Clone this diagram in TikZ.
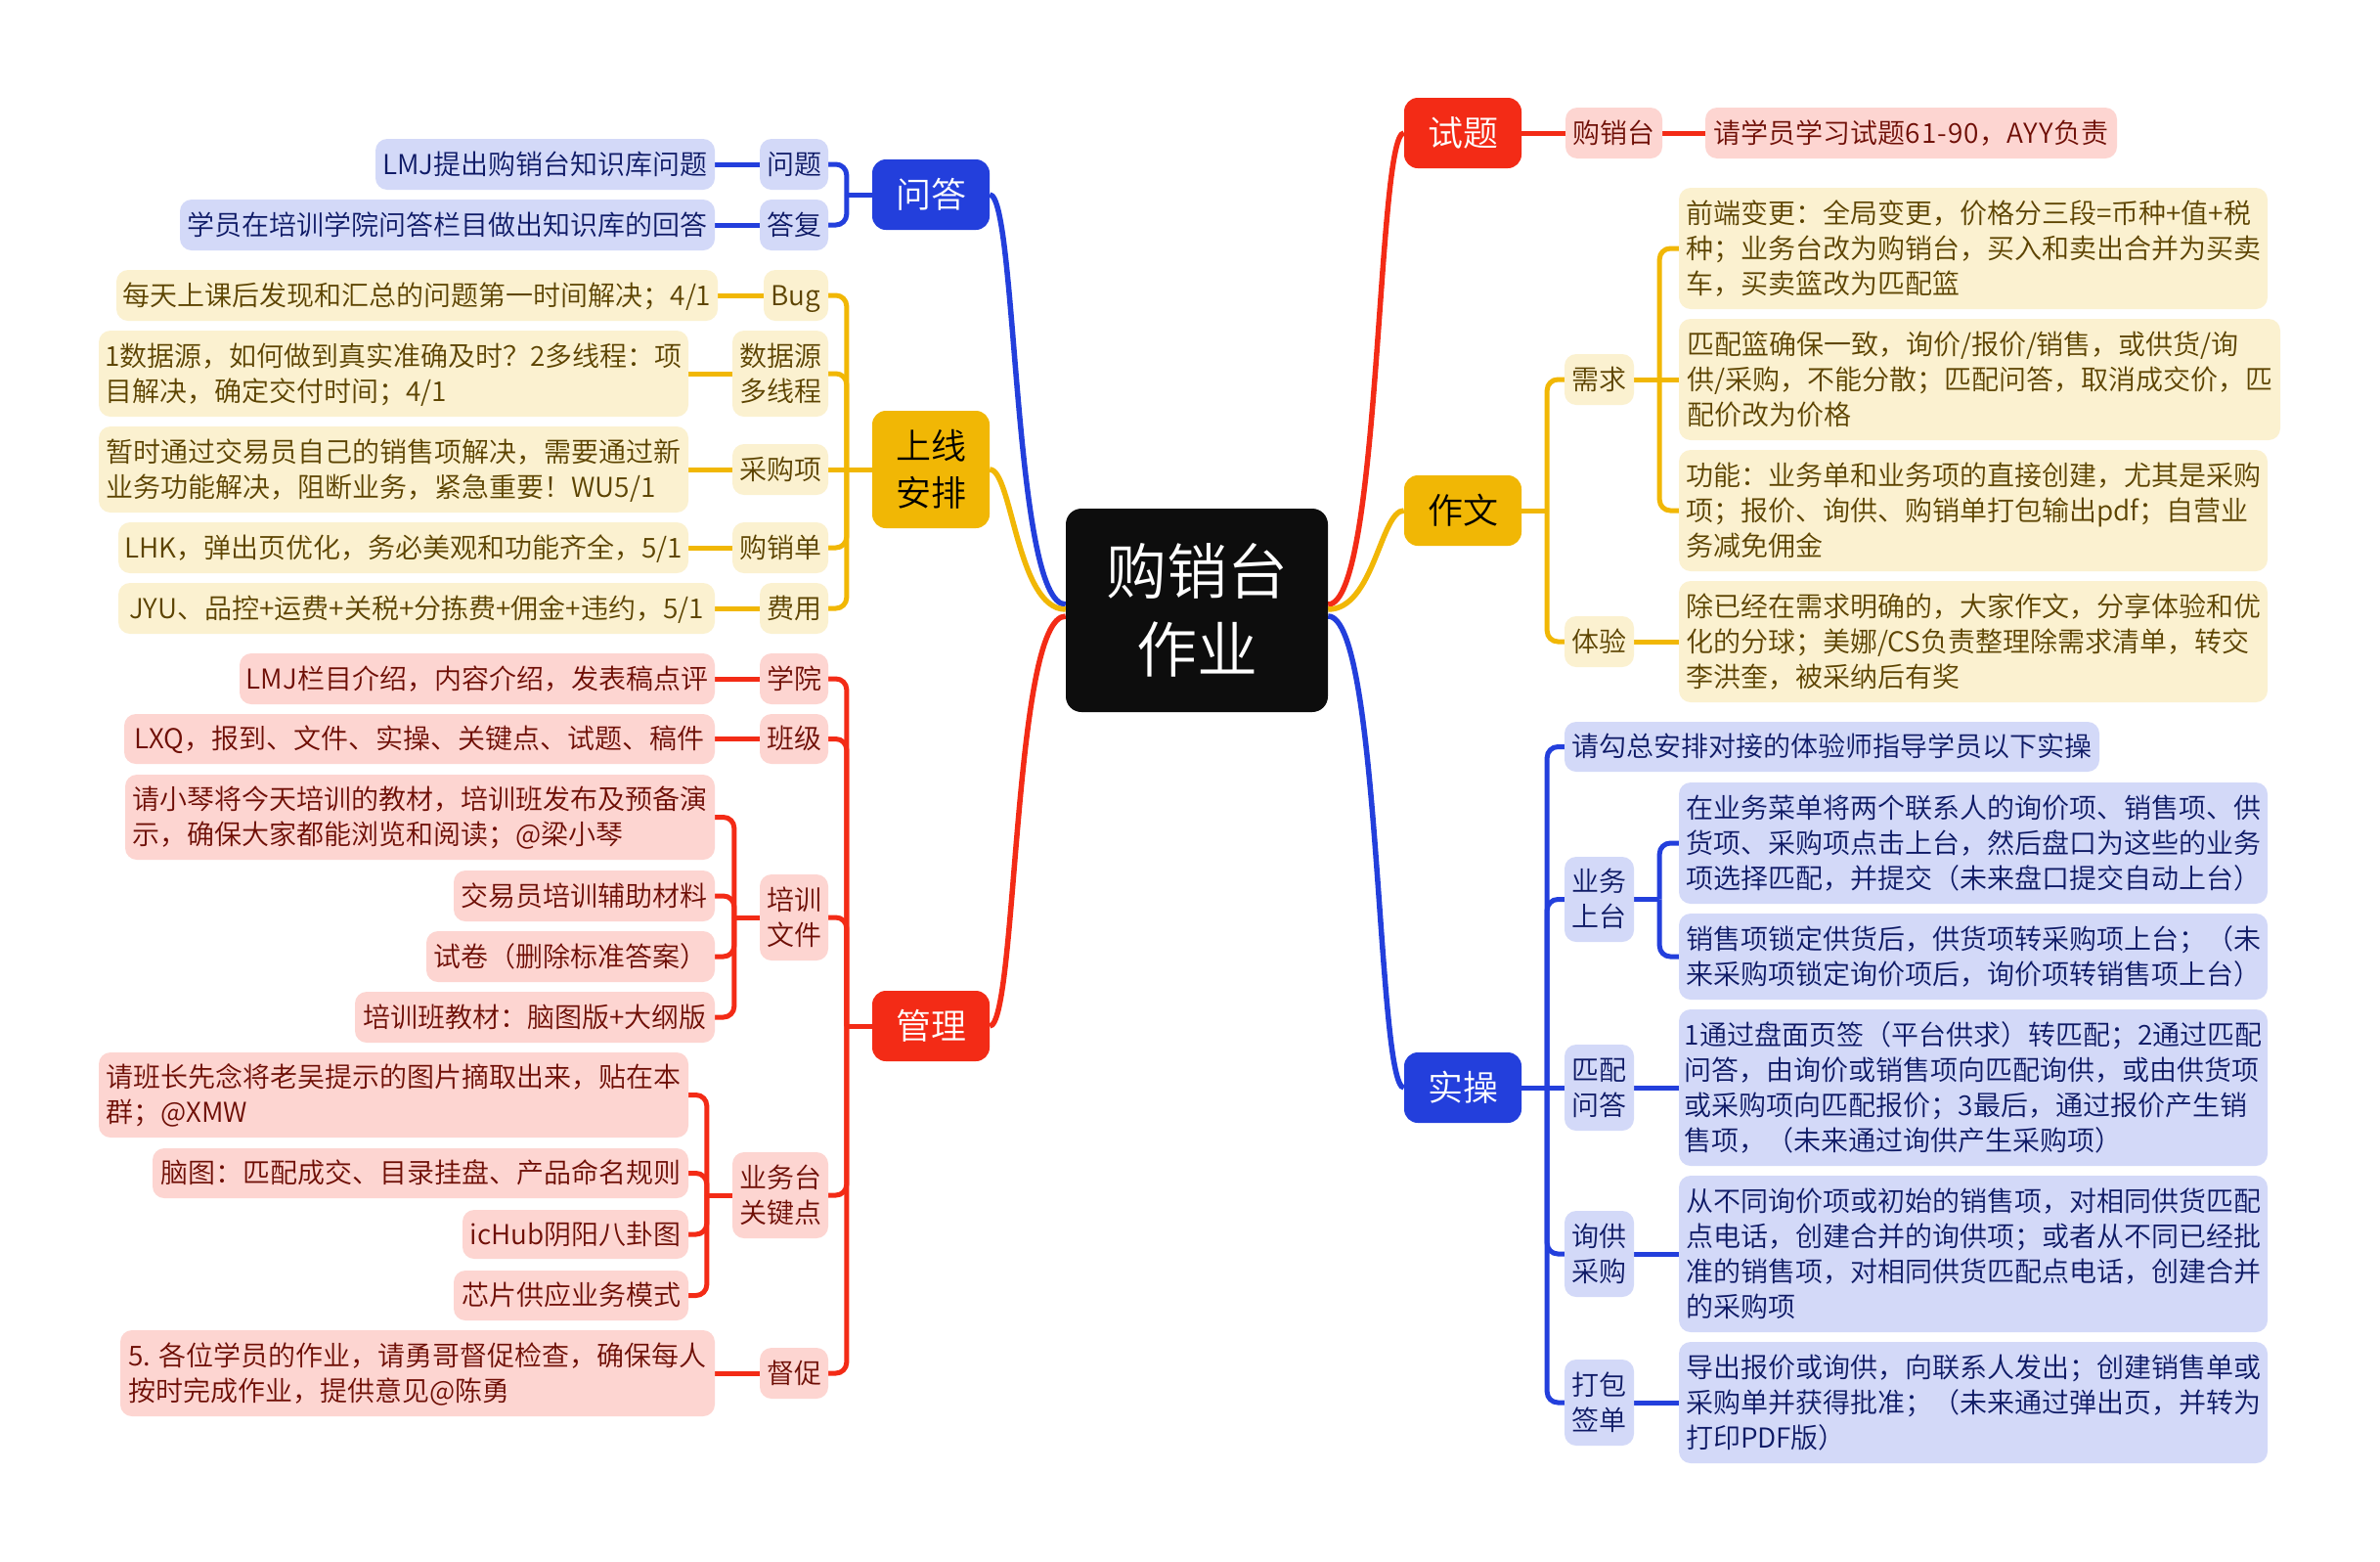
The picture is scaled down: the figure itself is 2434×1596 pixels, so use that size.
\documentclass[tikz,border=0pt]{standalone}
\usepackage{fontspec}
\setmainfont{Noto Sans CJK SC}[UprightFont={* DemiLight},BoldFont={* DemiLight}]
\usetikzlibrary{calc,backgrounds}
\definecolor{cB}{HTML}{233FDC}
\definecolor{cY}{HTML}{F1B705}
\definecolor{cR}{HTML}{F32B16}
\definecolor{lB}{HTML}{D3D9F8}
\definecolor{lY}{HTML}{FBF1D0}
\definecolor{lR}{HTML}{FDD5D1}
\definecolor{tB}{HTML}{0E1A66}
\definecolor{tY}{HTML}{5C4300}
\definecolor{tR}{HTML}{6E0E05}
\tikzset{
 box/.style={rectangle,inner sep=0pt,align=left},
 sub/.style={box,rounded corners=12pt,font=\fontsize{28}{36}\selectfont},
 subB/.style={sub,fill=lB,text=tB},
 subY/.style={sub,fill=lY,text=tY},
 subR/.style={sub,fill=lR,text=tR},
 mainn/.style={box,rounded corners=14pt,align=center,font=\fontsize{36}{48}\selectfont},
 mainB/.style={mainn,fill=cB,text=white},
 mainY/.style={mainn,fill=cY,text=black},
 mainR/.style={mainn,fill=cR,text=white},
 con/.style={line width=5pt,rounded corners=11pt},
 stub/.style={line width=5pt},
 curve/.style={line width=5.5pt},
}
% \nd{name}{style}{x0}{y0}{x1}{y1}{text}
\newcommand{\nd}[7]{\node[#2,minimum width=#5pt-#3pt,minimum height=#6pt-#4pt] (#1) at ({(#3+#5)/2},{(#4+#6)/2}) {\raisebox{0pt}[\dimexpr\height+6pt\relax]{\begin{tabular}{@{}l@{}}#7\end{tabular}}};}
\newcommand{\ndc}[7]{\node[#2,minimum width=#5pt-#3pt,minimum height=#6pt-#4pt] (#1) at ({(#3+#5)/2},{(#4+#6)/2}) {#7};}
\newcommand{\elL}[3]{\draw[stub,#1] (#2.west) -- ++(-26,0) coordinate (jn); \draw[con,#1] (jn) |- (#3.east);}
\newcommand{\elR}[3]{\draw[stub,#1] (#2.east) -- ++(26,0) coordinate (jn); \draw[con,#1] (jn) |- (#3.west);}
\newcommand{\stL}[3]{\draw[stub,#1] (#2.west) -- (#3.east);}
\newcommand{\stR}[3]{\draw[stub,#1] (#2.east) -- (#3.west);}
\begin{document}
\begin{tikzpicture}[x=1pt,y=-1pt]
\useasboundingbox (0,0) rectangle (2434,1596);
% root
\node[box,fill=black!95,text=white,rounded corners=16pt,align=center,font=\fontsize{62}{80}\selectfont,minimum width=268pt,minimum height=208pt] (root) at (1224,624) {购销台\\作业};
% main
\ndc{wd}{mainB}{892}{163}{1012}{235}{问答}
\ndc{sx}{mainY}{892}{420}{1012}{540}{上线\\安排}
\ndc{gl}{mainR}{892}{1013}{1012}{1085}{管理}
\ndc{st}{mainR}{1436}{100}{1556}{172}{试题}
\ndc{zw}{mainY}{1436}{486}{1556}{558}{作文}
\ndc{sc}{mainB}{1436}{1076}{1556}{1148}{实操}
% 问答
\nd{wt}{subB}{777}{142}{847}{194}{问题}
\nd{wta}{subB}{384}{142}{731}{194}{LMJ提出购销台知识库问题}
\nd{df}{subB}{777}{204}{847}{256}{答复}
\nd{dfa}{subB}{184}{204}{731}{256}{学员在培训学院问答栏目做出知识库的回答}
% 上线
\nd{bug}{subY}{781}{276}{847}{328}{Bug}
\nd{buga}{subY}{119}{276}{734}{328}{每天上课后发现和汇总的问题第一时间解决；4/1}
\nd{sjy}{subY}{749}{338}{847}{426}{数据源\\多线程}
\nd{sjya}{subY}{101}{338}{704}{426}{1数据源，如何做到真实准确及时？2多线程：项\\目解决，确定交付时间；4/1}
\nd{cgx}{subY}{749}{454}{847}{506}{采购项}
\nd{cgxa}{subY}{101}{436}{704}{524}{暂时通过交易员自己的销售项解决，需要通过新\\业务功能解决，阻断业务，紧急重要！WU5/1}
\nd{gxd}{subY}{749}{534}{847}{586}{购销单}
\nd{gxda}{subY}{121}{534}{704}{586}{LHK，弹出页优化，务必美观和功能齐全，5/1}
\nd{fy}{subY}{777}{596}{847}{648}{费用}
\nd{fya}{subY}{121}{596}{731}{648}{JYU、品控+运费+关税+分拣费+佣金+违约，5/1}
% 管理
\nd{xy}{subR}{777}{668}{847}{720}{学院}
\nd{xya}{subR}{245}{668}{731}{720}{LMJ栏目介绍，内容介绍，发表稿点评}
\nd{bj}{subR}{777}{730}{847}{781}{班级}
\nd{bja}{subR}{127}{730}{731}{781}{LXQ，报到、文件、实操、关键点、试题、稿件}
\nd{px}{subR}{777}{894}{847}{982}{培训\\文件}
\nd{pxa}{subR}{128}{792}{731}{879}{请小琴将今天培训的教材，培训班发布及预备演\\示，确保大家都能浏览和阅读；@梁小琴}
\nd{pxb}{subR}{464}{890}{731}{942}{交易员培训辅助材料}
\nd{pxc}{subR}{436}{952}{731}{1004}{试卷（删除标准答案）}
\nd{pxd}{subR}{363}{1014}{731}{1066}{培训班教材：脑图版+大纲版}
\nd{yw}{subR}{749}{1178}{847}{1266}{业务台\\关键点}
\nd{ywa}{subR}{101}{1076}{704}{1163}{请班长先念将老吴提示的图片摘取出来，贴在本\\群；@XMW}
\nd{ywb}{subR}{156}{1174}{704}{1225}{脑图：匹配成交、目录挂盘、产品命名规则}
\nd{ywc}{subR}{473}{1237}{704}{1287}{icHub阴阳八卦图}
\nd{ywd}{subR}{464}{1299}{704}{1350}{芯片供应业务模式}
\nd{dc}{subR}{777}{1378}{847}{1430}{督促}
\nd{dca}{subR}{123}{1360}{731}{1448}{5. 各位学员的作业，请勇哥督促检查，确保每人\\按时完成作业，提供意见@陈勇}
% 试题
\nd{stb}{subR}{1601}{110}{1700}{162}{购销台}
\nd{stc}{subR}{1744}{110}{2165}{162}{请学员学习试题{\addfontfeature{LetterSpace=4}61-90}，{\addfontfeature{LetterSpace=4}AYY}负责}
% 作文
\nd{xq}{subY}{1600}{362}{1671}{414}{需求}
\nd{xqa}{subY}{1717}{192}{2319}{316}{前端变更：全局变更，价格分三段=币种+值+税\\种；业务台改为购销台，买入和卖出合并为买卖\\车，买卖篮改为匹配篮}
\nd{xqb}{subY}{1717}{326}{2332}{450}{匹配篮确保一致，询价/报价/销售，或供货/询\\供/采购，不能分散；匹配问答，取消成交价，匹\\配价改为价格}
\nd{xqc}{subY}{1717}{460}{2319}{584}{功能：业务单和业务项的直接创建，尤其是采购\\项；报价、询供、购销单打包输出pdf；自营业\\务减免佣金}
\nd{ty}{subY}{1600}{630}{1671}{682}{体验}
\nd{tya}{subY}{1717}{594}{2319}{718}{除已经在需求明确的，大家作文，分享体验和优\\化的分球；美娜/CS负责整理除需求清单，转交\\李洪奎，被采纳后有奖}
% 实操
\nd{qg}{subB}{1600}{738}{2147}{789}{请勾总安排对接的体验师指导学员以下实操}
\nd{ywst}{subB}{1600}{876}{1671}{963}{业务\\上台}
\nd{ywsa}{subB}{1717}{800}{2319}{924}{在业务菜单将两个联系人的询价项、销售项、供\\货项、采购项点击上台，然后盘口为这些的业务\\项选择匹配，并提交（未来盘口提交自动上台）}
\nd{ywsb}{subB}{1717}{934}{2319}{1022}{销售项锁定供货后，供货项转采购项上台；（未\\来采购项锁定询价项后，询价项转销售项上台）}
\nd{ppwd}{subB}{1600}{1068}{1671}{1156}{匹配\\问答}
\nd{ppa}{subB}{1717}{1032}{2319}{1192}{1通过盘面页签（平台供求）转匹配；2通过匹配\\问答，由询价或销售项向匹配询供，或由供货项\\或采购项向匹配报价；3最后，通过报价产生销\\售项，（未来通过询供产生采购项）}
\nd{xgcg}{subB}{1600}{1238}{1671}{1326}{询供\\采购}
\nd{xga}{subB}{1717}{1202}{2319}{1362}{从不同询价项或初始的销售项，对相同供货匹配\\点电话，创建合并的询供项；或者从不同已经批\\准的销售项，对相同供货匹配点电话，创建合并\\的采购项}
\nd{dbqd}{subB}{1600}{1390}{1671}{1478}{打包\\签单}
\nd{dba}{subB}{1717}{1372}{2319}{1496}{导出报价或询供，向联系人发出；创建销售单或\\采购单并获得批准；（未来通过弹出页，并转为\\打印PDF版）}
\begin{scope}[on background layer]
\fill[white] (0,0) rectangle (2434,1596);
% connectors root
\draw[curve,cB] (wd.east) .. controls +(28,0) and +(-54,0) .. ($(root.west)+(0,-6)$);
\draw[curve,cY] (sx.east) .. controls +(23,0) and +(-50,0) .. ($(root.west)+(0,-1)$);
\draw[curve,cR] (gl.east) .. controls +(28,0) and +(-54,0) .. ($(root.west)+(0,6)$);
\draw[curve,cR] (st.west) .. controls +(-28,0) and +(54,0) .. ($(root.east)+(0,-6)$);
\draw[curve,cY] (zw.west) .. controls +(-24,0) and +(47,0) .. ($(root.east)+(0,-1)$);
\draw[curve,cB] (sc.west) .. controls +(-28,0) and +(54,0) .. ($(root.east)+(0,6)$);
% left branches
\elL{cB}{wd}{wt}\elL{cB}{wd}{df}\stL{cB}{wt}{wta}\stL{cB}{df}{dfa}
\elL{cY}{sx}{bug}\elL{cY}{sx}{sjy}\stL{cY}{sx}{cgx}\elL{cY}{sx}{gxd}\elL{cY}{sx}{fy}
\stL{cY}{bug}{buga}\stL{cY}{sjy}{sjya}\stL{cY}{cgx}{cgxa}\stL{cY}{gxd}{gxda}\stL{cY}{fy}{fya}
\elL{cR}{gl}{xy}\elL{cR}{gl}{bj}\elL{cR}{gl}{px}\elL{cR}{gl}{yw}\elL{cR}{gl}{dc}
\stL{cR}{xy}{xya}\stL{cR}{bj}{bja}\stL{cR}{dc}{dca}
\elL{cR}{px}{pxa}\elL{cR}{px}{pxb}\elL{cR}{px}{pxc}\elL{cR}{px}{pxd}
\elL{cR}{yw}{ywa}\elL{cR}{yw}{ywb}\elL{cR}{yw}{ywc}\elL{cR}{yw}{ywd}
% right branches
\stR{cR}{st}{stb}\stR{cR}{stb}{stc}
\elR{cY}{zw}{xq}\elR{cY}{zw}{ty}
\elR{cY}{xq}{xqa}\stR{cY}{xq}{xqb}\elR{cY}{xq}{xqc}\stR{cY}{ty}{tya}
\elR{cB}{sc}{qg}\elR{cB}{sc}{ywst}\stR{cB}{sc}{ppwd}\elR{cB}{sc}{xgcg}\elR{cB}{sc}{dbqd}
\elR{cB}{ywst}{ywsa}\elR{cB}{ywst}{ywsb}\stR{cB}{ppwd}{ppa}\stR{cB}{xgcg}{xga}\stR{cB}{dbqd}{dba}
\end{scope}
\end{tikzpicture}
\end{document}
